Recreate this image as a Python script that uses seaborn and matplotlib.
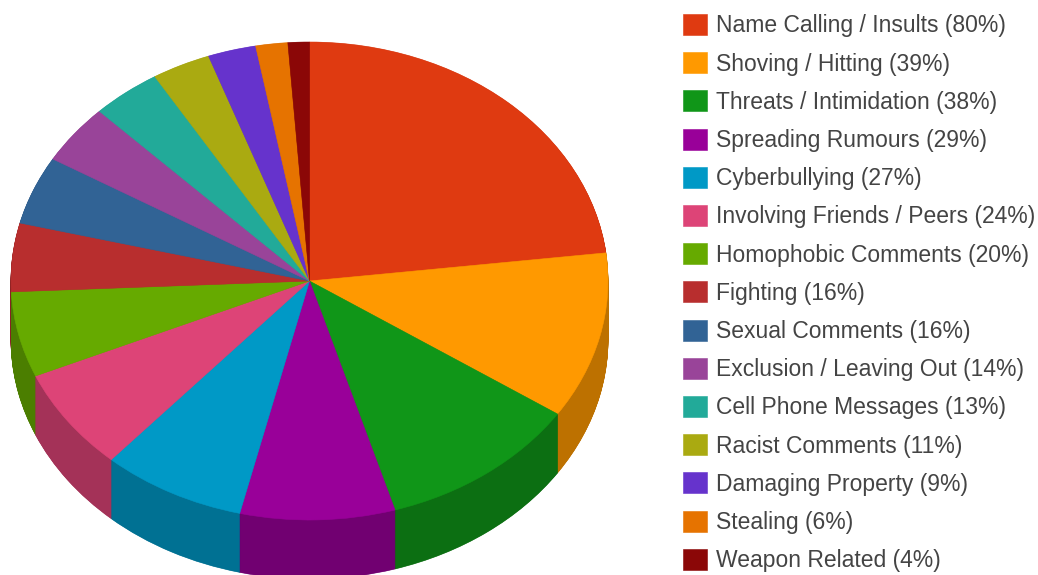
import numpy as np
import matplotlib
matplotlib.use("Agg")
import matplotlib.pyplot as plt
import seaborn as sns

categories = ["Name Calling / Insults", "Shoving / Hitting", "Threats / Intimidation",
              "Spreading Rumours", "Cyberbullying", "Involving Friends / Peers",
              "Homophobic Comments", "Fighting", "Sexual Comments",
              "Exclusion / Leaving Out", "Cell Phone Messages", "Racist Comments",
              "Damaging Property", "Stealing", "Weapon Related"]
percent = [80, 39, 38, 29, 27, 24, 20, 16, 16, 14, 13, 11, 9, 6, 4]
colors = ["#DF3A11", "#FF9900", "#109618", "#990099", "#0099C6", "#DD4477", "#66AA00",
          "#B82E2E", "#316395", "#994499", "#22AA99", "#AAAA11", "#6633CC", "#E67300",
          "#8B0707"]

sns.set_theme(style="white")
plt.rcParams["font.family"] = ["Liberation Sans", "DejaVu Sans"]

W, H = 1038, 575
palette = sns.color_palette(colors)
dark = [tuple(c * 0.74 for c in col) for col in palette]

fig = plt.figure(figsize=(W / 100, H / 100), dpi=100)
ax = fig.add_axes([0, 0, 1, 1])

# pixel geometry of the flattened pie
cx, cy, rx, ry, depth = 309.5, 281, 298.5, 239, 59


def draw_pie(cols, offset=0):
    wedges, _ = ax.pie(percent, colors=cols, startangle=90, counterclock=False,
                       center=(0, offset), wedgeprops=dict(linewidth=0.4))
    for w in wedges:
        w.set_edgecolor(w.get_facecolor())
    return wedges


# side wall: same pie stacked downwards in the darker colours
for d in np.arange(depth, 0, -0.5):
    draw_pie(dark, -d / ry)
wedges = draw_pie(palette)

ax.set_aspect("auto")
ax.set_xlim(-cx / rx, (W - cx) / rx)
ax.set_ylim(-(H - cy) / ry, cy / ry)
ax.axis("off")

labels = [f"{c} ({p}%)" for c, p in zip(categories, percent)]
ax.legend(wedges, labels, loc="upper left", bbox_to_anchor=(683 / W, 1 - 14 / H),
          bbox_transform=fig.transFigure, frameon=False, fontsize=16.5,
          borderpad=0, borderaxespad=0, handlelength=1.03, handleheight=1.03,
          handletextpad=0.42, labelspacing=0.65, labelcolor="#444444")

fig.savefig("out.png", dpi=100)
